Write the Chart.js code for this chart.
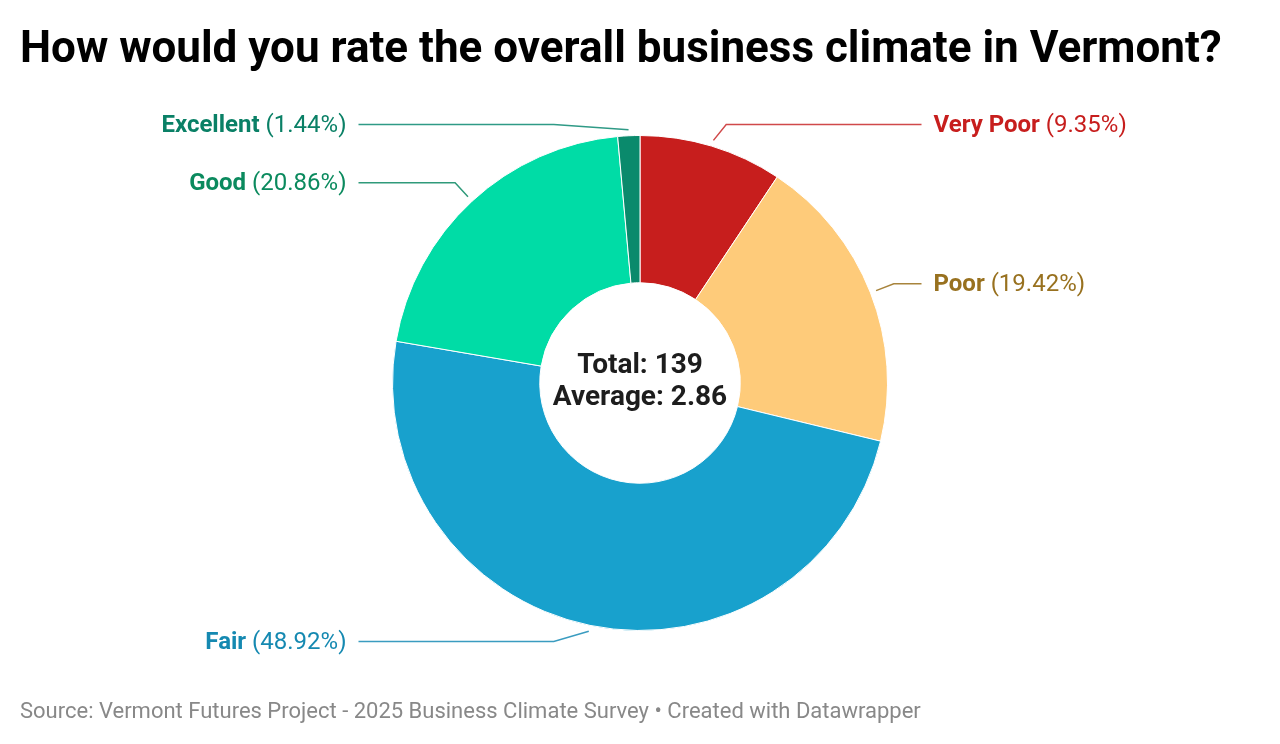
<!DOCTYPE html>
<html>
<head>
<meta charset="utf-8">
<title>Business climate in Vermont</title>
<script src="https://cdn.jsdelivr.net/npm/chart.js@4.4.1/dist/chart.umd.min.js"></script>
<style>
  body { margin: 0; background: #fff; font-family: Roboto, sans-serif; }
  #wrap { position: relative; width: 1280px; height: 744px; overflow: hidden; }
  #title {
    position: absolute; left: 20px; top: 25px; margin: 0;
    font: bold 44px/44px Roboto, sans-serif; color: #000; white-space: nowrap;
  }
  #source {
    position: absolute; left: 20px; top: 700px;
    font: 22px/22px Roboto, sans-serif; color: #888; white-space: nowrap;
  }
  #myChart { position: absolute; left: 0; top: 0; }
</style>
</head>
<body>
<div id="wrap">
  <canvas id="myChart" width="1280" height="744"></canvas>
  <h1 id="title">How would you rate the overall business climate in Vermont?</h1>
  <div id="source">Source: Vermont Futures Project - 2025 Business Climate Survey • Created with Datawrapper</div>
</div>
<script>
// answers, clockwise from the top
let categories = ['Very Poor', 'Poor', 'Fair', 'Good', 'Excellent'];
let responses = [13, 27, 68, 29, 2];
let scores = [1, 2, 3, 4, 5];

let sliceColors = ['#c71e1d', '#fecb7a', '#18a1cd', '#00dca6', '#0a8a6c'];
let labelColors = ['#c71e1d', '#98711f', '#1589b1', '#0b8a5e', '#0a8066'];
let lineColors = ['#d0494a', '#a8843c', '#3a9cc0', '#2f9a7a', '#2f9a86'];

let total = responses.reduce((a, b) => a + b, 0);
let average = responses.reduce((sum, v, i) => sum + v * scores[i], 0) / total;

let labelFont = 24;

const outerLabels = {
  id: 'outerLabels',
  afterDatasetsDraw(chart) {
    const ctx = chart.ctx;
    const meta = chart.getDatasetMeta(0);
    meta.data.forEach((arc, i) => {
      const p = arc.getProps(['x', 'y', 'startAngle', 'endAngle', 'outerRadius'], true);
      const mid = (p.startAngle + p.endAngle) / 2;
      const cos = Math.cos(mid);
      const sin = Math.sin(mid);
      const side = cos >= 0 ? 1 : -1;
      const R = p.outerRadius;

      const x0 = p.x + (R + 6) * cos;
      const y0 = p.y + (R + 6) * sin;
      const rElbow = R + 25;
      const lim = R + 11;
      let ly = p.y + rElbow * sin;
      ly = Math.max(p.y - lim, Math.min(p.y + lim, ly));
      const dy = ly - p.y;
      const ex = p.x + side * Math.sqrt(Math.max(rElbow * rElbow - dy * dy, 0));
      const lineEnd = p.x + side * (R + 34);
      const textX = p.x + side * (R + 46);

      ctx.save();
      ctx.strokeStyle = lineColors[i];
      ctx.lineWidth = 1.5;
      ctx.beginPath();
      ctx.moveTo(x0, y0);
      ctx.lineTo(ex, ly);
      ctx.lineTo(lineEnd, ly);
      ctx.stroke();

      const name = categories[i];
      const pct = ' (' + (responses[i] / total * 100).toFixed(2) + '%)';
      ctx.textBaseline = 'middle';
      ctx.textAlign = 'left';
      ctx.fillStyle = labelColors[i];
      ctx.font = 'bold ' + labelFont + 'px Roboto';
      const w1 = ctx.measureText(name).width;
      ctx.font = labelFont + 'px Roboto';
      const w2 = ctx.measureText(pct).width;
      let tx = side > 0 ? textX : textX - w1 - w2;
      ctx.font = 'bold ' + labelFont + 'px Roboto';
      ctx.fillText(name, tx, ly + 1);
      ctx.font = labelFont + 'px Roboto';
      ctx.fillText(pct, tx + w1, ly + 1);
      ctx.restore();
    });

    // centre text
    const a = meta.data[0];
    ctx.save();
    ctx.fillStyle = '#1d1d1d';
    ctx.textAlign = 'center';
    ctx.textBaseline = 'middle';
    ctx.font = 'bold 28px Roboto';
    ctx.fillText('Total: ' + total, a.x, a.y - 17);
    ctx.fillText('Average: ' + average.toFixed(2), a.x, a.y + 15);
    ctx.restore();
  }
};

const ctx = document.getElementById('myChart').getContext('2d');
const myChart = new Chart(ctx, {
  type: 'doughnut',
  data: {
    labels: categories,
    datasets: [{
      data: responses,
      backgroundColor: sliceColors,
      borderColor: '#ffffff',
      borderWidth: 1
    }]
  },
  options: {
    responsive: false,
    animation: false,
    cutout: '40.5%',
    layout: {
      padding: { top: 135, bottom: 113, left: 392, right: 392 }
    },
    plugins: {
      legend: { display: false },
      tooltip: { enabled: false }
    }
  },
  plugins: [outerLabels]
});
</script>
</body>
</html>
